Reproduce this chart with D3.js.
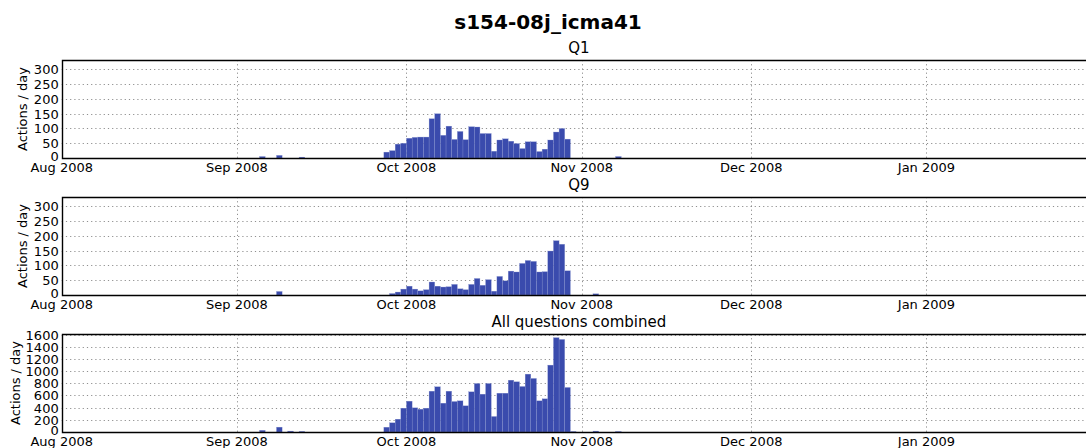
<!doctype html>
<html>
<head>
<meta charset="utf-8">
<title>s154-08j_icma41</title>
<script src="https://d3js.org/d3.v7.min.js"></script>
<style>
body { margin: 0; background: #fff; font-family: 'DejaVu Sans', sans-serif; }
</style>
</head>
<body>
<div id="container"></div>
<script>

// days that have activity (everything else is zero)
var days = ["2008-09-05","2008-09-08","2008-09-10","2008-09-12",
  "2008-09-27","2008-09-28","2008-09-29","2008-09-30",
  "2008-10-01","2008-10-02","2008-10-03","2008-10-04","2008-10-05","2008-10-06","2008-10-07","2008-10-08",
  "2008-10-09","2008-10-10","2008-10-11","2008-10-12","2008-10-13","2008-10-14","2008-10-15","2008-10-16",
  "2008-10-17","2008-10-18","2008-10-19","2008-10-20","2008-10-21","2008-10-22","2008-10-23","2008-10-24",
  "2008-10-25","2008-10-26","2008-10-27","2008-10-28","2008-10-29","2008-10-30",
  "2008-11-03","2008-11-07"];

var q1 = [5,9,0,3, 20,25,47,50,
  67,70,71,71,133,150,77,108,
  63,90,62,106,105,83,83,23,
  61,65,57,49,32,55,55,22,
  30,61,88,100,64,0,
  0,5];

var q9 = [0,12,0,0, 0,5,10,20,
  30,20,14,18,44,30,27,28,
  36,21,18,36,56,33,52,13,
  63,48,81,78,107,117,114,78,
  79,149,184,172,82,0,
  4,0];

var all = [28,80,15,10, 79,151,211,392,
  507,397,375,392,671,743,474,671,
  501,512,430,660,797,622,797,255,
  638,638,852,825,748,951,880,512,
  545,1099,1550,1521,732,8,
  15,8];

var panelTitles = ["Q1", "Q9", "All questions combined"];
var panelData = [q1, q9, all];
var yMax = [332, 332, 1610];
var yTicks = [d3.range(0, 301, 50), d3.range(0, 301, 50), d3.range(0, 1601, 200)];

var width = 1086, height = 448;
var left = 61.7, plotH = 98;
var tops = [60, 197, 334];
var ylabX = [23, 23, 16];
var barColor = "#3a4bad";

var parse = d3.utcParse("%Y-%m-%d");
var x = d3.scaleUtc()
  .domain([parse("2008-08-01"), parse("2009-01-31")])
  .range([left, left + 183 * 5.652]);
var monthTicks = d3.utcMonth.range(parse("2008-08-01"), parse("2009-01-31"));
var fmt = d3.utcFormat("%b %Y");

var svg = d3.select("#container").append("svg")
  .attr("width", width).attr("height", height)
  .style("font-family", "'DejaVu Sans', sans-serif");

svg.append("text")
  .attr("x", 548).attr("y", 29)
  .attr("text-anchor", "middle")
  .style("font-size", "20px").style("font-weight", "bold")
  .text("s154-08j_icma41");

panelData.forEach(function(vals, p){
  var top = tops[p];
  var y = d3.scaleLinear().domain([0, yMax[p]]).range([top + plotH, top]);
  var g = svg.append("g");
  var right = x.range()[1];

  // grid
  g.selectAll(".hgrid").data(yTicks[p].slice(1)).enter().append("line")
    .attr("x1", left).attr("x2", right)
    .attr("y1", function(d){ return Math.round(y(d)) + 0.5; })
    .attr("y2", function(d){ return Math.round(y(d)) + 0.5; })
    .attr("stroke", "#444").attr("stroke-width", 0.6)
    .attr("stroke-dasharray", "1.2,3");
  g.selectAll(".vgrid").data(monthTicks.slice(1)).enter().append("line")
    .attr("x1", function(d){ return Math.round(x(d)) + 0.5; })
    .attr("x2", function(d){ return Math.round(x(d)) + 0.5; })
    .attr("y1", top).attr("y2", top + plotH)
    .attr("stroke", "#444").attr("stroke-width", 0.6)
    .attr("stroke-dasharray", "1.2,3");

  // bars
  g.selectAll(".bar").data(days.map(function(d, i){ return {day: parse(d), v: vals[i]}; })
      .filter(function(d){ return d.v > 0; }))
    .enter().append("rect")
    .attr("x", function(d){ return x(d.day); })
    .attr("width", function(d){ return x(d3.utcDay.offset(d.day, 1)) - x(d.day); })
    .attr("y", function(d){ return y(d.v); })
    .attr("height", function(d){ return y(0) - y(d.v); })
    .attr("fill", barColor)
    .attr("stroke", "#8d97d0").attr("stroke-width", 0.3);

  // frame
  g.append("path")
    .attr("d", "M" + (right + 5) + "," + (top + 0.5) + "H" + (Math.round(left) + 0.5) + "V" + (top + plotH + 0.5) + "H" + (right + 5))
    .attr("fill", "none").attr("stroke", "#000").attr("stroke-width", 1.4);

  // y tick labels
  g.selectAll(".ylab").data(yTicks[p]).enter().append("text")
    .attr("x", left - 3).attr("y", function(d){ return y(d) + (d === 0 ? 3 : 5); })
    .attr("text-anchor", "end")
    .style("font-size", "13px")
    .text(function(d){ return d; });

  // x tick labels
  g.selectAll(".xlab").data(monthTicks).enter().append("text")
    .attr("x", function(d){ return x(d); }).attr("y", top + plotH + 14)
    .attr("text-anchor", "middle")
    .style("font-size", "13px")
    .text(function(d){ return fmt(d); });

  // y axis label
  g.append("text")
    .attr("transform", "translate(" + (ylabX[p] + 4) + "," + (top + plotH / 2) + ") rotate(-90)")
    .attr("text-anchor", "middle")
    .style("font-size", "13px")
    .text("Actions / day");

  // panel title
  g.append("text")
    .attr("x", (left + right) / 2).attr("y", top - 7)
    .attr("text-anchor", "middle")
    .style("font-size", "15px")
    .text(panelTitles[p]);
});

</script>
</body>
</html>
